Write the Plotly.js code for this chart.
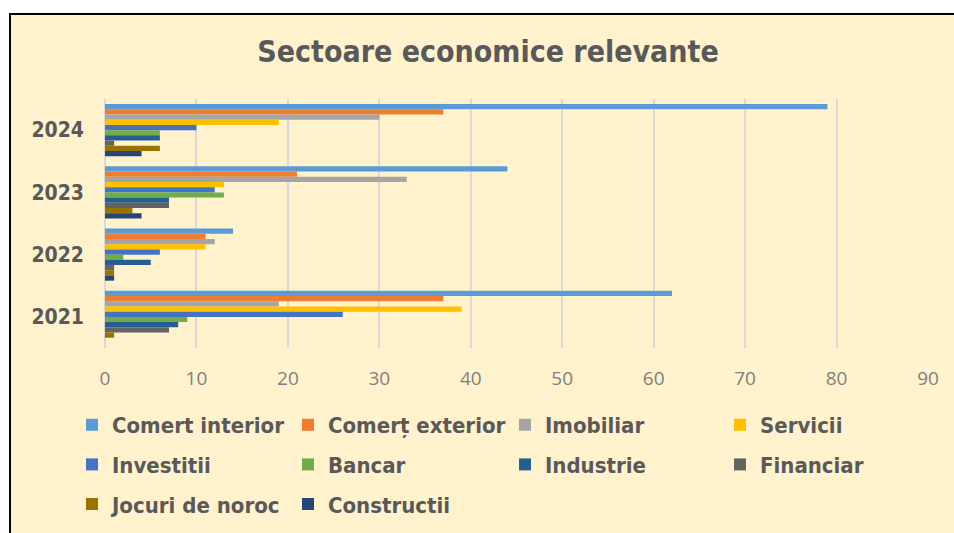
<!DOCTYPE html>
<html>
<head>
<meta charset="utf-8">
<script src="https://cdn.plot.ly/plotly-3.0.1.min.js"></script>
<style>html,body{margin:0;padding:0;background:#fff;}#chart{width:954px;height:533px;}</style>
</head>
<body>
<div id="chart"></div>
<script>
const years = ['2021', '2022', '2023', '2024'];
const seriesNames = ['Comert interior', 'Comerț exterior', 'Imobiliar', 'Servicii', 'Investitii', 'Bancar', 'Industrie', 'Financiar', 'Jocuri de noroc', 'Constructii'];
const comertInterior = [62, 14, 44, 79];
const comertExterior = [37, 11, 21, 37];
const imobiliar = [19, 12, 33, 30];
const servicii = [39, 11, 13, 19];
const investitii = [26, 6, 12, 10];
const bancar = [9, 2, 13, 6];
const industrie = [8, 5, 7, 6];
const financiar = [7, 1, 7, 1];
const jocuriDeNoroc = [1, 1, 3, 6];
const constructii = [0, 1, 4, 4];
const seriesValues = [comertInterior, comertExterior, imobiliar, servicii, investitii, bancar, industrie, financiar, jocuriDeNoroc, constructii];
const colors = ['#5B9BD5', '#ED7D31', '#A5A5A5', '#FFC000', '#4472C4', '#70AD47', '#255E91', '#636363', '#997300', '#264478'];
const xTicks = [0, 10, 20, 30, 40, 50, 60, 70, 80, 90];

// legend laid out as 4 columns (series index modulo 4)
const legendNames = ['legend', 'legend2', 'legend3', 'legend4'];

const traces = seriesNames.map((name, i) => ({
  type: 'bar',
  orientation: 'h',
  name: name,
  y: years,
  x: seriesValues[i],
  marker: {color: colors[i], line: {width: 0}},
  legend: legendNames[i % 4],
  legendgroup: 'g' + i,
  hoverinfo: 'x+name'
}));

const L = 105, R = 26, T = 99, B = 185;
const W = 954, H = 533;
const PW = W - L - R, PH = H - T - B;
const px2x = p => (p - L) / PW;
const py2y = p => (H - B - p) / PH;

const legFont = {family: 'DejaVu Sans Condensed, DejaVu Sans', size: 22, color: '#595959', weight: 'bold'};
const legTop = 404;
const legStarts = [72, 288, 505, 720];
const legBase = {
  orientation: 'v', xanchor: 'left', yanchor: 'top',
  y: py2y(legTop), bgcolor: 'rgba(0,0,0,0)', borderwidth: 0,
  font: legFont, tracegroupgap: 8, traceorder: 'grouped',
  itemclick: false, itemdoubleclick: false
};

const layout = {
  width: W, height: H,
  margin: {l: L, r: R, t: T, b: B, pad: 0, autoexpand: false},
  paper_bgcolor: '#FFFFFF',
  plot_bgcolor: 'rgba(0,0,0,0)',
  barmode: 'group',
  bargap: 0.163,
  bargroupgap: 0,
  title: {
    text: 'Sectoare economice relevante',
    font: {family: 'DejaVu Sans Condensed, DejaVu Sans', size: 30, color: '#595959', weight: 'bold'},
    x: 488 / W, xref: 'container', xanchor: 'center',
    y: 1 - 51 / H, yref: 'container', yanchor: 'middle'
  },
  xaxis: {
    range: [0, 90], tickvals: xTicks, ticktext: xTicks.map(String),
    showgrid: true, gridcolor: '#D9D9D9', gridwidth: 2,
    zeroline: true, zerolinecolor: '#D9D9D9', zerolinewidth: 2,
    showline: false, ticks: '',
    tickfont: {family: 'Open Sans, Liberation Sans', size: 19, color: '#7F7F7F'},
    ticklabelstandoff: 17, fixedrange: true, automargin: false
  },
  yaxis: {
    type: 'category', categoryorder: 'array', categoryarray: ['2024', '2023', '2022', '2021'],
    autorange: 'reversed',
    showgrid: false, zeroline: false, showline: false, ticks: '',
    tickfont: {family: 'DejaVu Sans Condensed, DejaVu Sans', size: 21, color: '#595959', weight: 'bold'},
    ticklabelstandoff: 20, fixedrange: true, automargin: false
  },
  shapes: [{
    type: 'rect', xref: 'paper', yref: 'paper', layer: 'below',
    x0: px2x(10), x1: px2x(962), y0: py2y(545), y1: py2y(14),
    fillcolor: '#FFF2CC', line: {color: '#000000', width: 2}
  }],
  showlegend: true
};
legendNames.forEach((ln, k) => {
  layout[ln] = Object.assign({}, legBase, {x: px2x(legStarts[k])});
});

Plotly.newPlot('chart', traces, layout, {displayModeBar: false, responsive: false});
</script>
</body>
</html>
